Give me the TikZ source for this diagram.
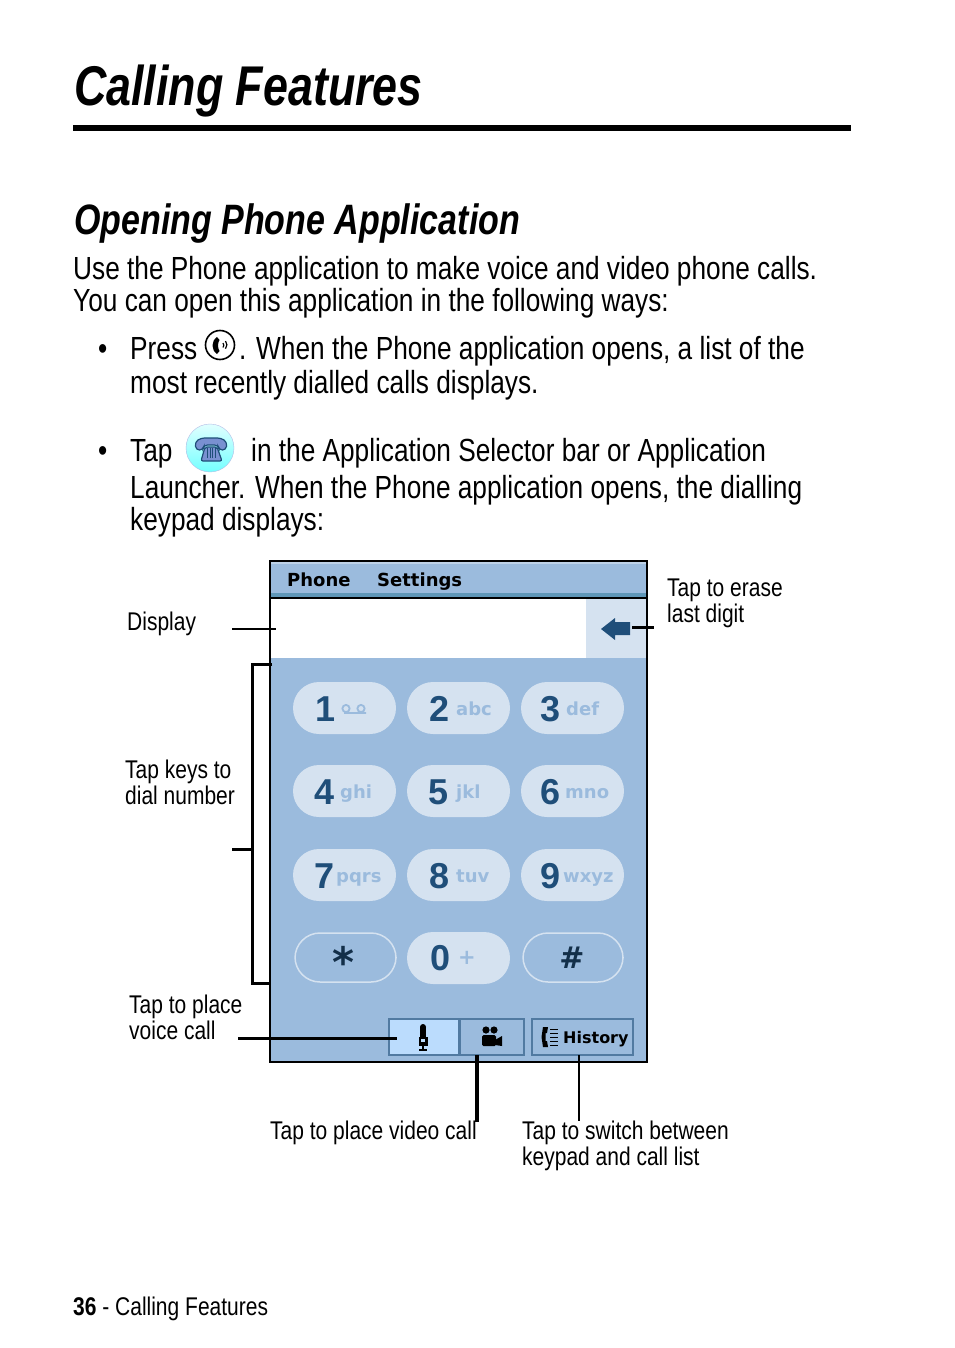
\documentclass[tikz,border=0pt]{standalone}
\usepackage{fontspec}
\setmainfont{Liberation Sans}
\newfontfamily\narrowfont[FakeStretch=0.82]{Liberation Sans}
\newfontfamily\headfont[FakeStretch=0.8]{Liberation Sans}
\newfontfamily\screenfont{DejaVu Sans}
\usetikzlibrary{positioning,calc}
\definecolor{panelblue}{HTML}{9BBBDD}
\definecolor{keyblue}{HTML}{D5E2F0}
\definecolor{inkblue}{HTML}{1F4E79}
\definecolor{stripblue}{HTML}{5F97B8}
\definecolor{activeblue}{HTML}{BBDCFD}
\tikzset{
    pagetext/.style={anchor=base west, inner sep=0pt, font=\narrowfont\fontsize{32}{32}\selectfont},
    labeltext/.style={anchor=base west, inner sep=0pt, font=\narrowfont\fontsize{25.6}{25.6}\selectfont},
    digittext/.style={inner sep=0pt, text=inkblue, font=\bfseries\fontsize{36}{36}\selectfont},
    lettertext/.style={anchor=base west, inner sep=0pt, text=panelblue, font=\screenfont\bfseries\fontsize{18}{18}\selectfont},
    menutext/.style={anchor=base west, inner sep=0pt, font=\screenfont\bfseries\fontsize{18}{18}\selectfont},
    keypill/.style={rounded corners=26pt, fill=keyblue},
    softbutton/.style={fill=panelblue, draw=inkblue!60!panelblue, line width=1.2pt},
    leader/.style={line width=#1, black}
}
\begin{document}
\begin{tikzpicture}[x=1pt, y=-1pt]
    \useasboundingbox (0,0) rectangle (954,1348);

    % Page heading
    \node[anchor=base west, inner sep=0pt, font=\headfont\bfseries\itshape\fontsize{56}{56}\selectfont] (title) at (74,106) {Calling Features};
    \fill (73,125) rectangle (851,131);
    \node[anchor=base west, inner sep=0pt, font=\headfont\bfseries\itshape\fontsize{42.5}{42.5}\selectfont] (heading) at (74,235) {Opening Phone Application};

    % Body text
    \node[pagetext] (intro1) at (73,279) {Use the Phone application to make voice and video phone calls.};
    \node[pagetext] (intro2) at (73,311) {You can open this application in the following ways:};
    \node[pagetext] (bulleta) at (98,359) {\textbullet};
    \node[pagetext] (press) at (130,359) {Press};
    \node[pagetext] (pressb) at (239,359) {. When the Phone application opens, a list of the};
    \node[pagetext] (pressc) at (130,393) {most recently dialled calls displays.};
    \node[pagetext] (bulletb) at (98,461) {\textbullet};
    \node[pagetext] (tap) at (130,461) {Tap};
    \node[pagetext] (tapb) at (251,461) {in the Application Selector bar or Application};
    \node[pagetext] (tapc) at (130,498) {Launcher. When the Phone application opens, the dialling};
    \node[pagetext] (tapd) at (130,530) {keypad displays:};

    % Call key icon
    \draw[line width=1.6pt] (220,345) circle (14.5);
    \fill (217,337) .. controls (211,341) and (211,350) .. (217,354) -- (219.5,351) .. controls (217.5,348) and (217.5,343) .. (219.5,340) -- cycle;
    \draw[line width=1.2pt] (223,343) arc (-40:40:3.5);
    \draw[line width=1.2pt] (225.5,341) arc (-40:40:6);

    % Phone application icon
    \shade[top color=cyan!12!white, bottom color=cyan!55!white, draw=cyan!35!blue!30] (210,448) circle (24);
    \fill[cyan!35!blue!55, draw=inkblue, line width=1.2pt, rounded corners=2pt] (205,447) -- (217,447) -- (222,461) -- (201,461) -- cycle;
    \draw[draw=inkblue, fill=cyan!35!blue!55, line width=1.2pt, rounded corners=3.5pt] (196,450) -- (195,442) -- (201,438) -- (221,438) -- (227,442) -- (226,450) -- (219,450) -- (218,445) -- (204,445) -- (203,450) -- cycle;
    \draw[step=2.5, inkblue, line width=0.5pt] (206,448) grid (216,458);

    % Phone screen
    \fill[panelblue] (270,561) rectangle (647,1062);
    \fill[keyblue!60!panelblue] (270,562) rectangle (647,564);
    \fill[stripblue] (270,593) rectangle (647,597);
    \fill[white] (270,599) rectangle (586,658);
    \fill[keyblue] (586,599) rectangle (646,658);
    \fill[inkblue] (601,629) -- (615,618) -- (615,622) -- (630,622) -- (630,635) -- (615,635) -- (615,640) -- cycle;
    \draw[line width=1.5pt] (270,598) -- (647,598);
    \node[menutext] (menuphone) at (287,586) {Phone};
    \node[menutext] (menusettings) at (377,586) {Settings};

    % Keypad
    \foreach \digit/\letters/\x/\y/\dx/\lx in {1/{}/345/708/-19/-5, 2/abc/459/708/-19/-3, 3/def/573/708/-22/-7,
        4/ghi/345/791/-20/-5, 5/jkl/459/791/-20/-3, 6/mno/573/791/-22/-8,
        7/pqrs/345/875/-20/-9, 8/tuv/459/875/-19/-3, 9/wxyz/573/875/-22/-10}
    {
        \fill[keypill] (\x-52,\y-26) rectangle (\x+51,\y+26);
        \node[digittext] at (\x+\dx,\y+1) {\digit};
        \node[lettertext] at (\x+\lx,\y+7) {\letters};
    }
    % voicemail mark on key 1
    \draw[panelblue, line width=1.8pt] (346,708.5) circle (3.6) (361,708.5) circle (3.6) (344,713) -- (366,713);
    \fill[keypill] (407,932) rectangle (510,984);
    \node[digittext] (zero) at (441,958) {0};
    \node[lettertext, anchor=center, font=\screenfont\bfseries\fontsize{21}{21}\selectfont] (plus) at (467,958) {+};
    \draw[keyblue, line width=1.5pt, rounded corners=25pt] (295,933) rectangle (396,982);
    \draw[keyblue, line width=1.5pt, rounded corners=25pt] (523,933) rectangle (623,982);
    \node[inner sep=0pt, text=inkblue!60!black, font=\screenfont\bfseries\fontsize{42}{42}\selectfont] (star) at (343,962) {*};
    \node[inner sep=0pt, text=inkblue!60!black, font=\screenfont\bfseries\fontsize{30}{30}\selectfont] (hash) at (572,958) {\#};

    % Soft buttons
    \fill[activeblue] (389,1019) rectangle (459,1055);
    \draw[inkblue!60!panelblue, line width=1.2pt] (389,1019) rectangle (459,1055);
    \draw[softbutton] (460,1019) rectangle (524,1055);
    \draw[softbutton] (532,1019) rectangle (633,1055);
    % microphone
    \fill (420,1027) rectangle (426,1038);
    \fill (423,1027) circle (3);
    \fill (418.5,1037) rectangle (427.5,1046);
    \fill[activeblue] (421,1039) rectangle (425,1042);
    \draw[line width=1.5pt] (423,1046) -- (423,1050) (419,1050) -- (427,1050);
    % camera
    \fill (486,1030) circle (3.6);
    \fill (494,1030) circle (3.6);
    \fill[rounded corners=1.5pt] (482,1035) rectangle (496,1046);
    \fill (495,1040) -- (502,1036) -- (502,1046) -- (495,1045) -- cycle;
    % history
    \fill (543,1027) -- (548,1027) -- (547,1033) -- (545.5,1033) -- (545.5,1041) -- (547,1041) -- (548,1047) -- (543,1047) -- (541.5,1037) -- cycle;
    \foreach \y in {1029,1033,...,1045}
        \draw[line width=1pt] (550,\y) -- (558,\y);
    \node[anchor=base west, inner sep=0pt, font=\screenfont\bfseries\fontsize{16}{16}\selectfont] (history) at (563,1043) {History};
    \draw[line width=2pt] (270,561) rectangle (647,1062);

    % Labels
    \node[labeltext] (display) at (127,630) {Display};
    \node[labeltext] (erasea) at (667,596) {Tap to erase};
    \node[labeltext] (eraseb) at (667,622) {last digit};
    \node[labeltext] (keysa) at (125,778) {Tap keys to};
    \node[labeltext] (keysb) at (125,804) {dial number};
    \node[labeltext] (voicea) at (129,1013) {Tap to place};
    \node[labeltext] (voiceb) at (129,1039) {voice call};
    \node[labeltext] (video) at (270,1139) {Tap to place video call};
    \node[labeltext] (switcha) at (522,1139) {Tap to switch between};
    \node[labeltext] (switchb) at (522,1165) {keypad and call list};
    \node[labeltext] (footer) at (73,1315) {\textbf{36} - Calling Features};

    % Leader lines
    \coordinate (displaya) at (232,629);
    \coordinate (displayb) at (276,629);
    \coordinate (backa) at (632,627);
    \coordinate (backb) at (654,627);
    \coordinate (bracketa) at (272,664);
    \coordinate (bracketb) at (252,664);
    \coordinate (bracketc) at (252,983);
    \coordinate (bracketd) at (270,983);
    \coordinate (bracketm) at (252,849);
    \coordinate (brackets) at (232,849);
    \coordinate (voicecall) at (238,1038);
    \coordinate (voicekey) at (397,1038);
    \coordinate (videokey) at (477,1055);
    \coordinate (videoend) at (477,1122);
    \coordinate (histkey) at (579,1055);
    \coordinate (histend) at (579,1121);
    \draw[leader=2.5pt] (displaya) -- (displayb);
    \draw[leader=3pt] (backa) -- (backb);
    \draw[leader=3pt] (bracketa) -- (bracketb) -- (bracketc) -- (bracketd);
    \draw[leader=3pt] (bracketm) -- (brackets);
    \draw[leader=3pt] (voicecall) -- (voicekey);
    \draw[leader=4pt] (videokey) -- (videoend);
    \draw[leader=2pt] (histkey) -- (histend);
\end{tikzpicture}
\end{document}
